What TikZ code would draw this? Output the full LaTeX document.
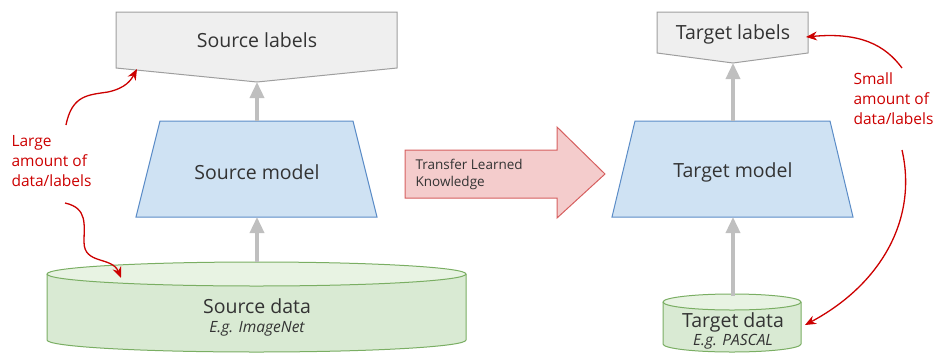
\documentclass[tikz,border=0pt]{standalone}
\usepackage{fontspec}
\setmainfont{Open Sans}
\usetikzlibrary{positioning,arrows.meta,calc}

\definecolor{labelgray}{HTML}{EFEFEF}
\definecolor{labeledge}{HTML}{9E9E9E}
\definecolor{modelblue}{HTML}{CFE2F3}
\definecolor{modeledge}{HTML}{5B8CC7}
\definecolor{datagreen}{HTML}{D9EAD3}
\definecolor{datatop}{HTML}{E8F3E3}
\definecolor{dataedge}{HTML}{7AAE63}
\definecolor{notered}{HTML}{CC0000}
\definecolor{transferfill}{HTML}{F4CCCC}
\definecolor{transferedge}{HTML}{D65F5F}
\definecolor{boxtext}{HTML}{333333}

\tikzset{
  labelshape/.style={fill=labelgray, draw=labeledge, line width=1pt},
  modelshape/.style={fill=modelblue, draw=modeledge, line width=1pt},
  datashape/.style={fill=datagreen, draw=dataedge, line width=1pt},
  boxtitle/.style={text=boxtext, font=\fontsize{19.5}{23}\selectfont, inner sep=1pt},
  boxsub/.style={text=boxtext, font=\fontsize{15.5}{18}\selectfont\itshape, inner sep=1pt},
  flow/.style={draw=black!25, line width=3.5pt, -{Triangle[length=16pt,width=14pt]}},
  note/.style={text=notered, font=\fontsize{15.5}{20}\selectfont, align=left, anchor=north west},
  notearrow/.style={draw=notered, line width=1.3pt, -{Stealth[length=11pt,width=9pt]}},
}

\begin{document}
\begin{tikzpicture}[x=1pt, y=-1pt]
  \useasboundingbox (0,0) rectangle (939,354);

  % Source side: labels
  \draw[labelshape] (116,12) -- (397,12) -- (397,68) -- (257,82) -- (116,68) -- cycle;
  \node[boxtitle] (srclab) at (257,40) {Source labels};
  \coordinate (srclabtip) at (257,82);
  \coordinate (srclabedge) at (137,69);

  % Source model
  \draw[modelshape] (160,121) -- (353,121) -- (377,217) -- (136,217) -- cycle;
  \node[boxtitle] (srcmodel) at (257,172) {Source model};
  \coordinate (srcmodeltop) at (257,121);
  \coordinate (srcmodelbot) at (257,217);

  % Source data (cylinder)
  \draw[datashape] (47,274) -- (47,340) arc[start angle=180, end angle=0, x radius=209.5, y radius=12] -- (466,274);
  \draw[datashape, fill=datatop] (256.5,274) ellipse[x radius=209.5, y radius=12];
  \node[boxtitle] (srcdata) at (257,306) {Source data};
  \node[boxsub] (srcnet) at (257,329) {E.g. ImageNet};
  \coordinate (srcdatatop) at (257,262);
  \coordinate (srcdataedge) at (121,278);

  \draw[flow] (srcmodeltop) -- (srclabtip);
  \draw[flow] (srcdatatop) -- (srcmodelbot);

  % Large amount note
  \node[note] (bignote) at (8,132) {Large\\amount of\\data/labels};
  \coordinate (bigup) at (66,125);
  \coordinate (bigdown) at (65,203);
  \draw[notearrow] (bigup) .. controls (72,95) and (88,95) .. (108,92) .. controls (126,88) and (131,80) .. (srclabedge);
  \draw[notearrow] (bigdown) .. controls (88,208) and (84,225) .. (84,242) .. controls (84,265) and (112,256) .. (srcdataedge);

  % Transfer arrow
  \draw[fill=transferfill, draw=transferedge, line width=1pt]
    (405,150) -- (557,150) -- (557,127) -- (605,174) -- (557,218) -- (557,198) -- (405,198) -- cycle;
  \node[text=boxtext, font=\fontsize{13.5}{17}\selectfont, align=left, anchor=west] (transfer) at (412,174) {Transfer Learned\\Knowledge};

  % Target side: labels
  \draw[labelshape] (657,12) -- (808,12) -- (808,53) -- (733,63) -- (657,53) -- cycle;
  \node[boxtitle] (tgtlab) at (733,34) {Target labels};
  \coordinate (tgtlabtip) at (733,63);
  \coordinate (tgtlabedge) at (806,37);

  % Target model
  \draw[modelshape] (635,121) -- (830,121) -- (853,217) -- (612,217) -- cycle;
  \node[boxtitle] (tgtmodel) at (733,172) {Target model};
  \coordinate (tgtmodeltop) at (733,121);
  \coordinate (tgtmodelbot) at (733,217);

  % Target data (cylinder)
  \draw[datashape] (663,302) -- (663,344) arc[start angle=180, end angle=0, x radius=69, y radius=8] -- (801,302);
  \draw[datashape, fill=datatop] (732,302) ellipse[x radius=69, y radius=8];
  \node[boxtitle] (tgtdata) at (733,322) {Target data};
  \node[boxsub] (tgtnet) at (733,342) {E.g. PASCAL};
  \coordinate (tgtdatatop) at (733,296);
  \coordinate (tgtdataedge) at (805,325);

  \draw[flow] (tgtmodeltop) -- (tgtlabtip);
  \draw[flow] (tgtdatatop) -- (tgtmodelbot);

  % Small amount note
  \node[note] (smallnote) at (850,69) {Small\\amount of\\data/labels};
  \coordinate (smallup) at (902,68);
  \coordinate (smalldown) at (902,150);
  \draw[notearrow] (smallup) .. controls (885,45) and (860,32) .. (tgtlabedge);
  \draw[notearrow] (smalldown) .. controls (918,220) and (880,285) .. (tgtdataedge);
\end{tikzpicture}
\end{document}
